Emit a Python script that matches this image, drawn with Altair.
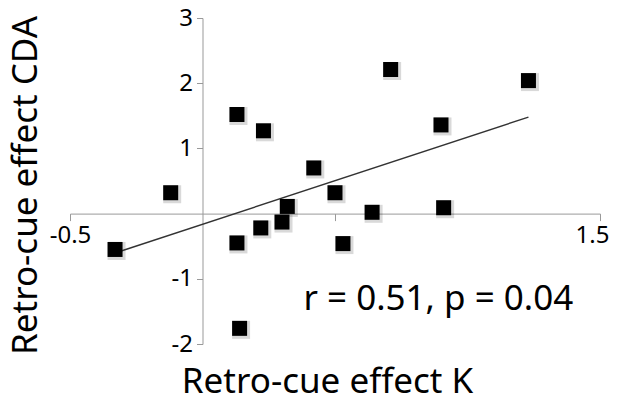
import altair as alt
import pandas as pd

# Retro-cue effect K (x) and Retro-cue effect CDA (y)
k_effect = [-0.33, -0.12, 0.13, 0.13, 0.14, 0.22, 0.23, 0.30, 0.32, 0.42,
            0.50, 0.53, 0.64, 0.71, 0.90, 0.91, 1.23]
cda_effect = [-0.55, 0.32, 1.52, -0.45, -1.76, -0.22, 1.27, -0.13, 0.11, 0.70,
              0.32, -0.46, 0.02, 2.21, 1.36, 0.09, 2.04]

x_ticks = [-0.5, 0.5, 1.5]
y_ticks = [-2, -1, 1, 2, 3]

stat_text = ["r = 0.51, p = 0.04"]
stat_x = [0.89]
stat_y = [-1.48]

df = pd.DataFrame({"k": k_effect, "cda": cda_effect})
ann = pd.DataFrame({"label": stat_text, "x": stat_x, "y": stat_y})

W, H = 530, 326
FONT = "Noto Sans"

xscale = alt.Scale(domain=[-0.5, 1.5], nice=False, zero=False)
yscale = alt.Scale(domain=[-2, 3], nice=False, zero=False)

x_axis = alt.Axis(
    values=x_ticks, orient="bottom", offset=-H * 0.4,
    domainColor="#999999", domainWidth=1, tickColor="#999999", tickSize=7,
    grid=False, labelFont=FONT, labelFontSize=24, labelColor="black",
    labelPadding=3, labelFlush=False, labelOverlap=False,
    labelExpr="datum.value == 0.5 ? '' : toString(datum.value)",
    labelOffset={"condition": {"test": "datum.value == 1.5", "value": -8}, "value": 0},
    title="Retro-cue effect K", titleFont=FONT, titleFontSize=35,
    titleFontWeight="normal", titleColor="black",
    titleX=257, titleY=179, titleBaseline="alphabetic", titleAlign="center",
)
y_axis = alt.Axis(
    values=y_ticks, orient="left", offset=-W * 0.25,
    domainColor="#999999", domainWidth=1, tickColor="#999999", tickSize=6,
    grid=False, labelFont=FONT, labelFontSize=24, labelColor="black",
    labelPadding=4, labelFlush=False, labelOverlap=False,
    labelExpr="toString(datum.value)",
    title="Retro-cue effect CDA", titleFont=FONT, titleFontSize=35,
    titleFontWeight="normal", titleColor="black",
    titleX=-166, titleY=167, titleBaseline="alphabetic", titleAlign="center",
    titleAngle=270,
)

base = alt.Chart(df)

shadow = base.mark_point(shape="square", filled=True, color="black",
                         opacity=0.15, size=324).encode(
    x=alt.X("k:Q", scale=xscale, axis=x_axis),
    y=alt.Y("cda:Q", scale=yscale, axis=y_axis),
    xOffset=alt.value(1.5), yOffset=alt.value(1.5),
)

points = base.mark_point(shape="square", filled=True, color="black",
                         opacity=1, size=225).encode(
    x=alt.X("k:Q", scale=xscale),
    y=alt.Y("cda:Q", scale=yscale),
)

fit = base.transform_regression("k", "cda").mark_line(
    color="#333333", strokeWidth=1.4).encode(
    x=alt.X("k:Q", scale=xscale),
    y=alt.Y("cda:Q", scale=yscale),
)

label = alt.Chart(ann).mark_text(font=FONT, fontSize=35, color="black",
                                 align="center", baseline="alphabetic").encode(
    x=alt.X("x:Q", scale=xscale),
    y=alt.Y("y:Q", scale=yscale),
    text="label:N",
)

chart = alt.layer(shadow, fit, points, label).properties(
    width=W, height=H,
    autosize=alt.AutoSizeParams(type="none"),
    padding={"left": 62, "top": 10, "right": 10, "bottom": 51},
).configure(background="white", view=alt.ViewConfig(strokeWidth=0, strokeOpacity=0))

chart.save("out.html", embed_options={"renderer": "svg", "actions": False})
